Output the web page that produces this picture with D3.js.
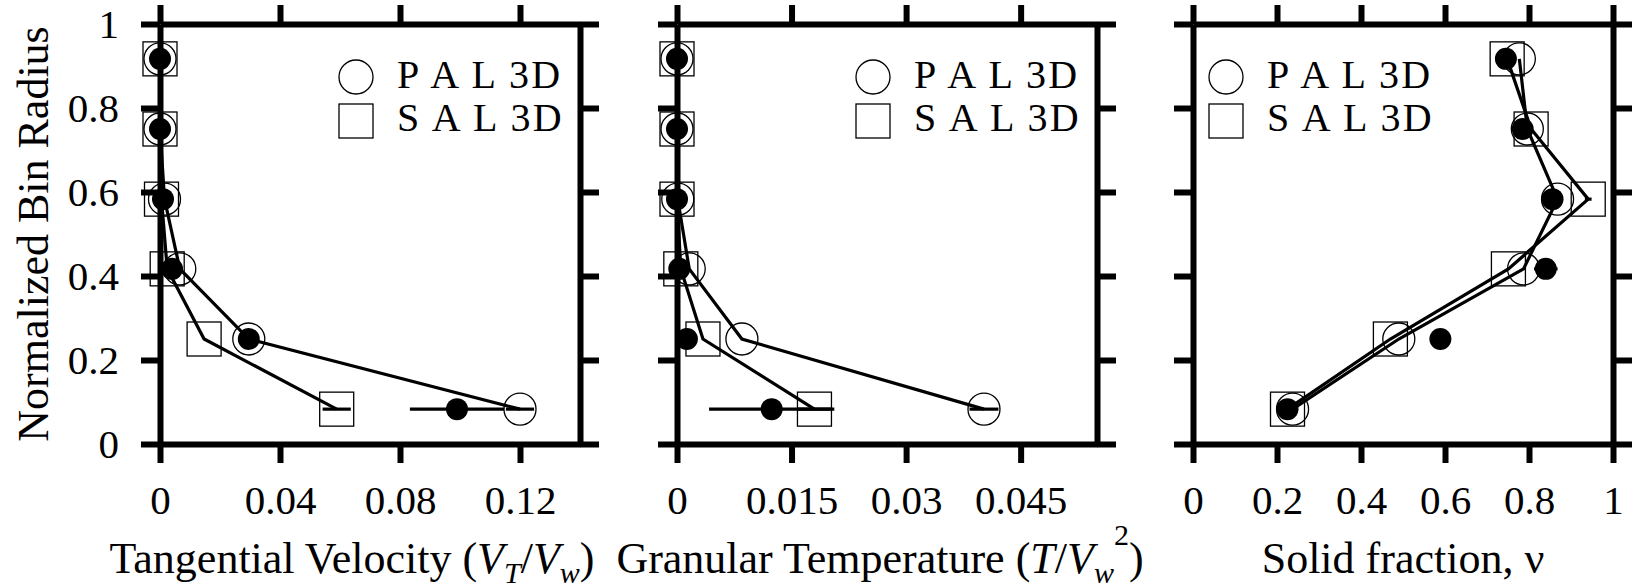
<!DOCTYPE html>
<html>
<head>
<meta charset="utf-8">
<script src="https://cdn.jsdelivr.net/npm/d3@7"></script>
<style>
  html, body { margin: 0; padding: 0; background: #fff; }
  svg text { font-family: "Liberation Serif", "Times New Roman", serif; fill: #000; }
</style>
</head>
<body>
<div id="chart"></div>
<script>
// bin centres (normalized radius), shared by all three panels
const binRadius = [0.917, 0.75, 0.583, 0.417, 0.25, 0.083];
const yTicks = [0, 0.2, 0.4, 0.6, 0.8, 1];

// tangential velocity
const velTicks = [0, 0.04, 0.08, 0.12];
const velExp = [0, 0, 0.001, 0.004, 0.0296, 0.099];
const velExpErr = [0, 0, 0, 0, 0, 0.0157];
const velPAL = [0, 0, 0.0015, 0.0066, 0.0296, 0.12];
const velPALErr = [0, 0, 0, 0, 0, 0.0047];
const velSAL = [0, 0, 0.0005, 0.0024, 0.0147, 0.0589];
const velSALErr = [0, 0, 0, 0, 0, 0.0047];

// granular temperature
const tempTicks = [0, 0.015, 0.03, 0.045];
const tempExp = [0, 0, 0, 0.0003, 0.0013, 0.0124];
const tempExpErr = [0, 0, 0, 0, 0, 0.0082];
const tempPAL = [0, 0, 0.0001, 0.0016, 0.0085, 0.0402];
const tempPALErr = [0, 0, 0, 0, 0, 0.0019];
const tempSAL = [0, 0, 0, 0.0005, 0.0034, 0.018];
const tempSALErr = [0, 0, 0, 0, 0, 0.0022];

// solid fraction
const nuTicks = [0, 0.2, 0.4, 0.6, 0.8, 1];
const nuExp = [0.745, 0.785, 0.856, 0.84, 0.589, 0.225];
const nuExpErr = [0, 0, 0, 0.028, 0, 0];
const nuPAL = [0.777, 0.796, 0.868, 0.787, 0.49, 0.237];
const nuPALErr = [0, 0, 0, 0, 0, 0];
const nuSAL = [0.748, 0.805, 0.941, 0.751, 0.47, 0.225];
const nuSALErr = [0, 0, 0.008, 0, 0, 0];

const legendLabels = ["P A L 3D", "S A L 3D"];

const width = 1635,
    height = 586;
const plotTop = 24,
    plotBottom = 444,
    pw = 420;

const svg = d3
    .select("#chart")
    .append("svg")
    .attr("width", width)
    .attr("height", height);

const y = d3.scaleLinear().domain([0, 1]).range([plotBottom, plotTop]);

const panels = [
    {
        x0: 160, max: 0.14, ticks: velTicks,
        exp: velExp, expErr: velExpErr, pal: velPAL, palErr: velPALErr, sal: velSAL, salErr: velSALErr,
        legend: "right", titleX: 192,
        title: [["Tangential Velocity (", ""], ["V", "i"], ["T", "sub"], ["/", ""], ["V", "i"], ["w", "sub"], [")", ""]],
        yLabels: true
    },
    {
        x0: 677, max: 0.055, ticks: tempTicks,
        exp: tempExp, expErr: tempExpErr, pal: tempPAL, palErr: tempPALErr, sal: tempSAL, salErr: tempSALErr,
        legend: "right", titleX: 203,
        title: [["Granular Temperature (", ""], ["T", "i"], ["/", ""], ["V", "i"], ["w", "sub"], ["2", "sup"], [")", ""]]
    },
    {
        x0: 1193, max: 1, ticks: nuTicks,
        exp: nuExp, expErr: nuExpErr, pal: nuPAL, palErr: nuPALErr, sal: nuSAL, salErr: nuSALErr,
        legend: "left", titleX: 210,
        title: [["Solid fraction, \u03bd", ""]]
    }
];

const line = d3.line();

panels.forEach((p) => {
    const x = d3.scaleLinear().domain([0, p.max]).range([p.x0, p.x0 + pw]);
    const g = svg.append("g");

    // frame with outward ticks on all four sides
    const axes = [
        [d3.axisBottom(x).tickValues(p.ticks), `translate(0,${plotBottom})`, true],
        [d3.axisTop(x).tickValues(p.ticks), `translate(0,${plotTop})`, false],
        [d3.axisLeft(y).tickValues(yTicks), `translate(${p.x0},0)`, !!p.yLabels],
        [d3.axisRight(y).tickValues(yTicks), `translate(${p.x0 + pw},0)`, false]
    ];
    axes.forEach(([ax, tr, labels]) => {
        ax.tickSize(19).tickSizeOuter(0).tickPadding(22);
        if (!labels) ax.tickFormat("");
        else ax.tickFormat((d) => String(d));
        const a = g.append("g").attr("transform", tr).call(ax);
        a.attr("font-family", null).attr("font-size", null);
        a.selectAll("path, line").attr("stroke", "#000").attr("stroke-width", 6);
        a.selectAll("text").style("font-size", "41px");
    });

    // connecting lines for the two simulations
    [p.pal, p.sal].forEach((s) => {
        g.append("path")
            .attr("d", line(s.map((v, i) => [x(v), y(binRadius[i])])))
            .attr("fill", "none")
            .attr("stroke", "#000")
            .attr("stroke-width", 3.2);
    });

    // horizontal error bars
    [[p.exp, p.expErr], [p.pal, p.palErr], [p.sal, p.salErr]].forEach(([s, e]) => {
        g.selectAll(null)
            .data(s.map((v, i) => ({ v, e: e[i], r: binRadius[i] })).filter((d) => d.e > 0))
            .enter()
            .append("line")
            .attr("x1", (d) => x(d.v - d.e))
            .attr("x2", (d) => x(d.v + d.e))
            .attr("y1", (d) => y(d.r))
            .attr("y2", (d) => y(d.r))
            .attr("stroke", "#000")
            .attr("stroke-width", 3.2);
    });

    // SAL squares
    g.selectAll(null)
        .data(p.sal)
        .enter()
        .append("rect")
        .attr("x", (d) => x(d) - 17)
        .attr("y", (d, i) => y(binRadius[i]) - 17)
        .attr("width", 34)
        .attr("height", 34)
        .attr("fill", "none")
        .attr("stroke", "#000")
        .attr("stroke-width", 1.3);

    // PAL circles
    g.selectAll(null)
        .data(p.pal)
        .enter()
        .append("circle")
        .attr("cx", (d) => x(d))
        .attr("cy", (d, i) => y(binRadius[i]))
        .attr("r", 16)
        .attr("fill", "none")
        .attr("stroke", "#000")
        .attr("stroke-width", 1.3);

    // experiment, filled
    g.selectAll(null)
        .data(p.exp)
        .enter()
        .append("circle")
        .attr("cx", (d) => x(d))
        .attr("cy", (d, i) => y(binRadius[i]))
        .attr("r", 11)
        .attr("fill", "#000");

    // legend
    const lx = p.legend === "right" ? p.x0 + pw - 224 : p.x0 + 33;
    const leg = g.append("g");
    leg.append("circle")
        .attr("cx", lx).attr("cy", 77).attr("r", 17)
        .attr("fill", "none").attr("stroke", "#000").attr("stroke-width", 1.3);
    leg.append("rect")
        .attr("x", lx - 17).attr("y", 104).attr("width", 34).attr("height", 34)
        .attr("fill", "none").attr("stroke", "#000").attr("stroke-width", 1.3);
    legendLabels.forEach((t, i) => {
        leg.append("text")
            .attr("x", lx + 41)
            .attr("y", 88 + i * 43)
            .style("font-size", "40px")
            .style("letter-spacing", "2.3px")
            .text(t);
    });

    // x title
    const tt = g.append("text")
        .attr("x", p.x0 + p.titleX)
        .attr("y", 573)
        .attr("text-anchor", "middle")
        .style("font-size", "44px");
    let shift = 0;
    p.title.forEach(([s, k]) => {
        const ts = tt.append("tspan").text(s);
        let dy = 0;
        if (k === "i") ts.style("font-style", "italic");
        if (k === "sub") { ts.style("font-style", "italic").style("font-size", "30px"); dy = 10; }
        if (k === "sup") { ts.style("font-size", "30px"); dy = -28; }
        ts.attr("dy", dy - shift);
        shift = dy;
    });
});

// y title
svg.append("text")
    .attr("transform", `translate(48,${(plotTop + plotBottom) / 2}) rotate(-90)`)
    .attr("text-anchor", "middle")
    .style("font-size", "44px")
    .text("Normalized Bin Radius");
</script>
</body>
</html>
